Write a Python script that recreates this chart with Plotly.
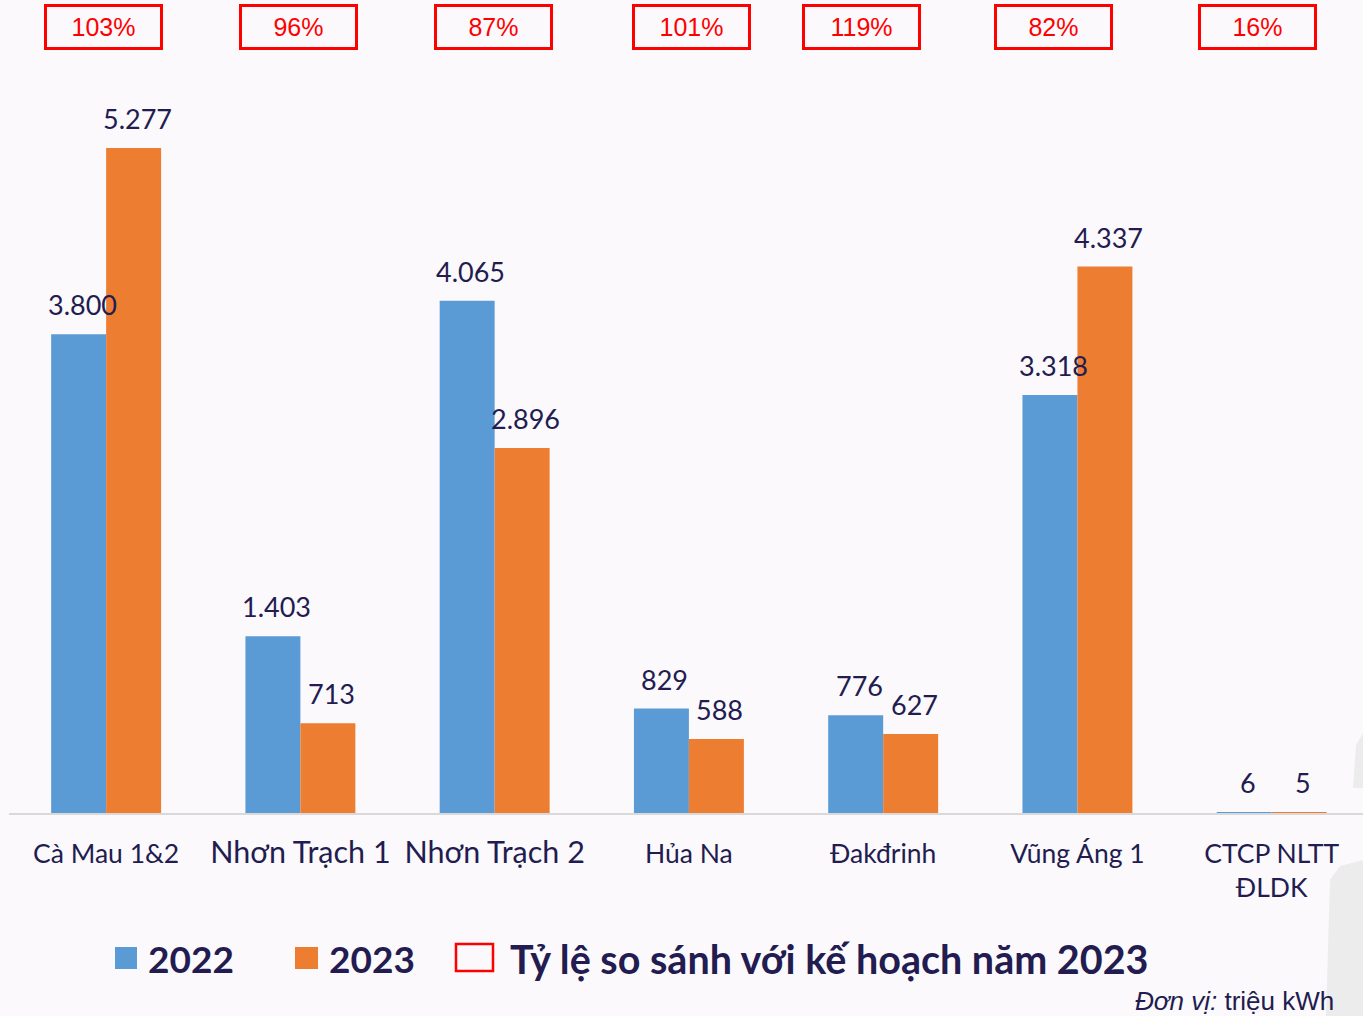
import plotly.graph_objects as go

categories = ["Cà Mau 1&2", "Nhơn Trạch 1", "Nhơn Trạch 2", "Hủa Na", "Đakđrinh", "Vũng Áng 1", "CTCP NLTT ĐLDK"]
tick_labels = ["Cà Mau 1&2", "Nhơn Trạch 1", "Nhơn Trạch 2", "Hủa Na", "Đakđrinh", "Vũng Áng 1", "CTCP NLTT<br>ĐLDK"]
values_2022 = [3800, 1403, 4065, 829, 776, 3318, 6]
values_2023 = [5277, 713, 2896, 588, 627, 4337, 5]
plan_ratio = ["103%", "96%", "87%", "101%", "119%", "82%", "16%"]
series_names = ["2022", "2023"]
ratio_legend = "Tỷ lệ so sánh với kế hoạch năm 2023"

W, H = 1363, 1016
ML, MR, MT, MB = 9, 0, 60, 203
PW, PH = W - ML - MR, H - MT - MB
NAVY = "#221C50"
BLUE = "#5B9BD5"
ORANGE = "#ED7D31"
BG = "#FBF9FC"
FONT = "Lato"


def fmt(v):
    return f"{v:,}".replace(",", ".")


def px(x):
    return (x - ML) / PW


def py(y):
    return (H - MB - y) / PH


big = {"Nhơn Trạch 1", "Nhơn Trạch 2"}
ticktext = [
    f'<span style="font-size:30.5px">{t}</span>' if c in big else t
    for c, t in zip(categories, tick_labels)
]

fig = go.Figure()
annotations = []
for name, vals, col, side in [(series_names[0], values_2022, BLUE, -1), (series_names[1], values_2023, ORANGE, 1)]:
    fig.add_trace(go.Bar(
        x=categories, y=vals, name=name,
        marker=dict(color=col, line=dict(width=0)),
        showlegend=False, hoverinfo="x+y",
    ))
    for c, v in zip(categories, vals):
        annotations.append(dict(
            x=c, xref="x", y=v, yref="y", xshift=side * 27.5 + 3.5, yshift=11,
            xanchor="center", yanchor="bottom", text=fmt(v), showarrow=False,
            font=dict(family=FONT, size=27, color=NAVY),
        ))

shifts = [-3, -2, -1, 3, -22, -24, -14]
for i, (r, s) in enumerate(zip(plan_ratio, shifts)):
    annotations.append(dict(
        x=categories[i], xref="x", y=1, yref="paper", yshift=33.5,
        xshift=s, yanchor="middle", xanchor="center",
        text=r, showarrow=False,
        font=dict(family="Liberation Sans", size=25, color="#FF0000"),
        width=113, height=40, bordercolor="#FF0000", borderwidth=3, borderpad=0,
        align="center", valign="middle",
    ))

# legend
shapes = [
    dict(type="rect", xref="paper", yref="paper", x0=px(115), x1=px(137), y0=py(969), y1=py(947),
         fillcolor=BLUE, line=dict(width=0)),
    dict(type="rect", xref="paper", yref="paper", x0=px(295), x1=px(318), y0=py(969), y1=py(947),
         fillcolor=ORANGE, line=dict(width=0)),
    dict(type="rect", xref="paper", yref="paper", x0=px(456), x1=px(493), y0=py(971), y1=py(944),
         fillcolor="rgba(0,0,0,0)", line=dict(width=2.5, color="#FF0000")),
]
for txt, x0, fs in [(series_names[0], 146, 37), (series_names[1], 327, 37), (ratio_legend, 508, 39.5)]:
    annotations.append(dict(
        x=px(x0), y=py(958), xref="paper", yref="paper", xanchor="left", yanchor="middle",
        text=f"<b>{txt}</b>", showarrow=False,
        font=dict(family=FONT, size=fs, color=NAVY),
    ))

annotations.append(dict(
    x=px(1336), y=py(1001), xref="paper", yref="paper", xanchor="right", yanchor="middle",
    text="<i>Đơn vị:</i> triệu kWh", showarrow=False,
    font=dict(family="Liberation Sans", size=26, color=NAVY),
))

# faint decoration at right edge
shapes.append(dict(type="path", xref="paper", yref="paper",
                   path=f"M {px(1363)},{py(733)} L {px(1356)},{py(745)} L {px(1353)},{py(788)} L {px(1363)},{py(788)} Z",
                   fillcolor="#ECECEC", line=dict(width=0), layer="below"))
shapes.append(dict(type="path", xref="paper", yref="paper",
                   path=f"M {px(1363)},{py(860)} L {px(1340)},{py(866)} L {px(1330)},{py(880)} L {px(1326)},{py(1016)} L {px(1363)},{py(1016)} Z",
                   fillcolor="#ECECEC", line=dict(width=0), layer="below"))

fig.update_layout(
    width=W, height=H,
    margin=dict(l=ML, r=MR, t=MT, b=MB, pad=0),
    paper_bgcolor=BG, plot_bgcolor=BG,
    barmode="group", bargap=0.434, bargroupgap=0,
    font=dict(family=FONT, color=NAVY),
    xaxis=dict(
        tickvals=categories, ticktext=ticktext, range=[-0.5, 6.47],
        tickfont=dict(family=FONT, size=26.5, color=NAVY),
        showline=True, linecolor="#D9D9D9", linewidth=2,
        showgrid=False, zeroline=False, ticks="", ticklabelstandoff=16,
    ),
    yaxis=dict(range=[0, 5976], visible=False, showgrid=False, zeroline=False),
    annotations=annotations, shapes=shapes,
    showlegend=False,
)

fig.write_html(
    "out.html",
    config={"displayModeBar": False},
    post_script="document.body.style.margin='0';document.body.style.padding='0';"
                "document.body.style.background='#FBF9FC';document.documentElement.style.overflow='hidden';",
)
